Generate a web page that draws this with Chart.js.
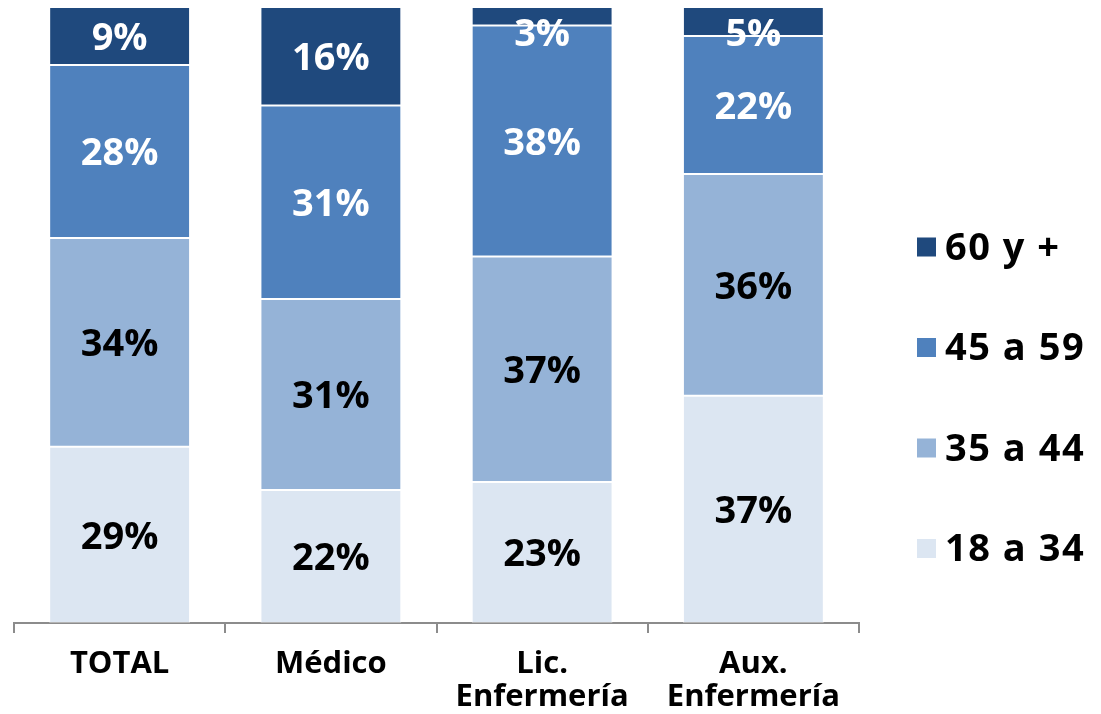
<!DOCTYPE html>
<html>
<head>
<meta charset="utf-8">
<script src="https://cdn.jsdelivr.net/npm/chart.js@4"></script>
<style>
  html, body { margin: 0; padding: 0; background: #ffffff; }
  #wrap { width: 1101px; height: 714px; position: relative; }
</style>
</head>
<body>
<div id="wrap"><canvas id="mainChart"></canvas></div>
<script>
// Categories and age groups
const categories = ['TOTAL', 'Médico', ['Lic.', 'Enfermería'], ['Aux.', 'Enfermería']];
const ageGroups = ['18 a 34', '35 a 44', '45 a 59', '60 y +'];

// Shares (%) per age group
const age18to34 = [28.6, 21.6, 22.9, 36.9];
const age35to44 = [33.9, 31.0, 36.6, 36.0];
const age45to59 = [28.1, 31.4, 37.5, 22.4];
const age60plus = [9.4, 16.0, 3.0, 4.7];

const colors = ['#dce6f2', '#95b3d7', '#4f81bd', '#1f497d'];
const labelColors = ['#000000', '#000000', '#ffffff', '#ffffff'];
const FONT = "'Open Sans', sans-serif";

// value labels centred in each segment (kept off the very top edge)
const segmentLabels = {
  id: 'segmentLabels',
  afterDatasetsDraw(chart) {
    const ctx = chart.ctx;
    const top = chart.chartArea.top;
    ctx.save();
    ctx.font = 'bold 38px ' + FONT;
    ctx.textAlign = 'center';
    ctx.textBaseline = 'middle';
    chart.data.datasets.forEach((ds, i) => {
      const meta = chart.getDatasetMeta(i);
      meta.data.forEach((bar, j) => {
        const mid = (bar.y + bar.base) / 2;
        const y = Math.max(mid, top + 25) + 3;
        ctx.fillStyle = labelColors[i];
        ctx.fillText(Math.round(ds.data[j]) + '%', bar.x, y);
      });
    });
    ctx.restore();
  }
};

// legend on the right, top entry = oldest group
const sideLegend = {
  id: 'sideLegend',
  afterDraw(chart) {
    const ctx = chart.ctx;
    const x = chart.chartArea.right + 58;
    ctx.save();
    ctx.font = 'bold 38px ' + FONT;
    ctx.letterSpacing = '1.5px';
    ctx.textBaseline = 'middle';
    const n = chart.data.datasets.length;
    for (let k = 0; k < n; k++) {
      const ds = chart.data.datasets[n - 1 - k];
      const cy = 247 + k * 100.5;
      ctx.fillStyle = ds.backgroundColor;
      ctx.fillRect(x, cy - 9.5, 19, 19);
      ctx.fillStyle = '#000000';
      ctx.fillText(ds.label, x + 28, cy + 2);
    }
    ctx.restore();
  }
};

const ctx = document.getElementById('mainChart').getContext('2d');

new Chart(ctx, {
  type: 'bar',
  data: {
    labels: categories,
    datasets: [age18to34, age35to44, age45to59, age60plus].map((values, i) => ({
      label: ageGroups[i],
      data: values,
      backgroundColor: colors[i],
      borderColor: 'rgba(255, 255, 255, 0.35)',
      borderWidth: 1,
      borderSkipped: false,
      categoryPercentage: 1,
      barPercentage: 0.667
    }))
  },
  options: {
    responsive: true,
    maintainAspectRatio: false,
    animation: false,
    layout: {
      padding: { left: 14, right: 242, top: 7, bottom: 0 }
    },
    plugins: {
      legend: { display: false },
      tooltip: { enabled: false }
    },
    scales: {
      x: {
        stacked: true,
        afterFit(scale) { scale.height = 91; },
        grid: {
          offset: true,
          drawOnChartArea: false,
          drawTicks: true,
          tickLength: 10,
          color: '#8c8c8c',
          lineWidth: 2
        },
        border: { color: '#8c8c8c', width: 2 },
        ticks: {
          color: '#000000',
          padding: 15,
          maxRotation: 0,
          autoSkip: false,
          font: { family: FONT, size: 31, weight: 'bold', lineHeight: 1.06 }
        }
      },
      y: {
        stacked: true,
        display: false,
        min: 0,
        max: 100
      }
    }
  },
  plugins: [segmentLabels, sideLegend]
});
</script>
</body>
</html>
